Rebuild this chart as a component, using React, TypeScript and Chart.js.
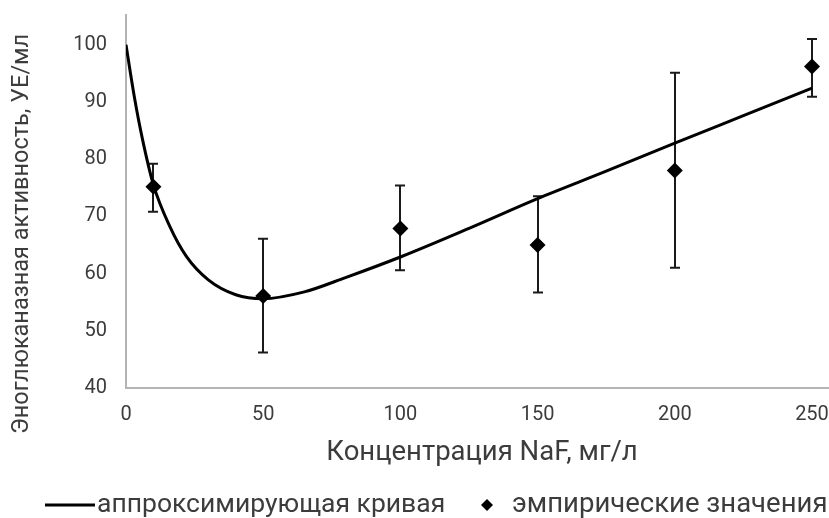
import React, { useEffect, useRef } from "react";
import { Chart, registerables } from "chart.js";

Chart.register(...registerables);

// Approximating curve (NaF concentration, mg/l → activity, U/ml)
const curveX = [0, 3, 6, 10, 16, 22, 30, 40, 50, 65, 80, 100, 125, 150, 175, 200, 225, 250];
const curveY = [100, 91, 83.5, 75.5, 68.2, 63, 58.9, 56.3, 55.6, 56.8, 59.3, 62.9, 67.9, 73.1, 77.9, 82.8, 87.6, 92.4];

// Empirical measurements with their error ranges
const empX = [10, 50, 100, 150, 200, 250];
const empY = [75.2, 56.1, 67.9, 65, 78, 96.2];
const errLow = [70.8, 46.2, 60.6, 56.7, 61, 90.9];
const errHigh = [79.2, 66.1, 75.4, 73.5, 95.1, 101];

const xTitle = "Концентрация NaF, мг/л";
const yTitle = "Эноглюканазная активность, УЕ/мл";
const curveLabel = "аппроксимирующая кривая";
const empLabel = "эмпирические значения";

const FONT = "Roboto, 'Noto Sans', sans-serif";
const TEXT = "#3c3c3c";

const noPadding = () => ({ left: 0, top: 0, right: 0, bottom: 0 });

const errorBars = {
  id: "errorBars",
  beforeDatasetsDraw(chart: any) {
    const { ctx, scales } = chart;
    const xs = scales.x;
    const ys = scales.y;
    ctx.save();
    ctx.strokeStyle = "#1a1a1a";
    ctx.lineWidth = 2;
    for (let i = 0; i < empX.length; i++) {
      const px = Math.round(xs.getPixelForValue(empX[i]));
      const top = ys.getPixelForValue(errHigh[i]);
      const bot = ys.getPixelForValue(errLow[i]);
      ctx.beginPath();
      ctx.moveTo(px, top);
      ctx.lineTo(px, bot);
      ctx.moveTo(px - 5, top);
      ctx.lineTo(px + 5, top);
      ctx.moveTo(px - 5, bot);
      ctx.lineTo(px + 5, bot);
      ctx.stroke();
    }
    ctx.restore();
  },
};

const annotations = {
  id: "annotations",
  afterDraw(chart: any) {
    const { ctx } = chart;
    ctx.save();
    ctx.fillStyle = TEXT;

    // y axis title
    ctx.save();
    ctx.translate(22, 234);
    ctx.rotate(-Math.PI / 2);
    ctx.font = `23.5px ${FONT}`;
    ctx.textAlign = "center";
    ctx.textBaseline = "middle";
    ctx.fillText(yTitle, 0, 0);
    ctx.restore();

    // x axis title
    ctx.font = `27.5px ${FONT}`;
    ctx.textAlign = "center";
    ctx.textBaseline = "middle";
    ctx.fillText(xTitle, 482, 453);

    // legend
    const ly = 505;
    ctx.strokeStyle = "#000";
    ctx.lineWidth = 3;
    ctx.beginPath();
    ctx.moveTo(45, ly);
    ctx.lineTo(95, ly);
    ctx.stroke();
    ctx.font = `26.5px ${FONT}`;
    ctx.textAlign = "left";
    ctx.fillText(curveLabel, 97, ly);

    ctx.fillStyle = "#000";
    ctx.beginPath();
    ctx.moveTo(487, ly - 6);
    ctx.lineTo(493, ly);
    ctx.lineTo(487, ly + 6);
    ctx.lineTo(481, ly);
    ctx.closePath();
    ctx.fill();
    ctx.fillStyle = TEXT;
    ctx.font = `27.5px ${FONT}`;
    ctx.fillText(empLabel, 512, ly);
    ctx.restore();
  },
};

export default function App() {
  const ref = useRef<HTMLCanvasElement>(null);

  useEffect(() => {
    if (!ref.current) return;
    const chart = new Chart(ref.current, {
      data: {
        datasets: [
          {
            type: "line",
            label: curveLabel,
            data: curveX.map((x, i) => ({ x, y: curveY[i] })),
            borderColor: "#000",
            borderWidth: 3,
            pointRadius: 0,
            cubicInterpolationMode: "monotone",
            fill: false,
            order: 0,
          },
          {
            type: "scatter",
            label: empLabel,
            data: empX.map((x, i) => ({ x, y: empY[i] })),
            pointStyle: "rectRot",
            pointRadius: 8,
            backgroundColor: "#000",
            borderColor: "#000",
            borderWidth: 0,
            order: 1,
          },
        ],
      },
      options: {
        animation: false,
        responsive: true,
        maintainAspectRatio: false,
        layout: { autoPadding: false, padding: { top: 15, left: 0, right: 0, bottom: 0 } },
        plugins: {
          legend: { display: false },
          tooltip: { enabled: false },
        },
        scales: {
          x: {
            type: "linear",
            min: 0,
            max: 256.2,
            afterFit: (s: any) => {
              s.height = 130;
              s.paddingLeft = 0;
              s.paddingRight = 0;
              s.getPadding = noPadding;
            },
            ticks: {
              stepSize: 50,
              includeBounds: false,
              padding: 15,
              color: TEXT,
              font: { family: FONT, size: 20 },
              maxRotation: 0,
            },
            grid: { display: false, drawTicks: false },
            border: { display: true, color: "#b4b4b4", width: 2 },
          },
          y: {
            type: "linear",
            min: 40,
            max: 105.2,
            afterFit: (s: any) => {
              s.width = 126;
              s.paddingTop = 0;
              s.paddingBottom = 0;
              s.getPadding = noPadding;
            },
            ticks: {
              stepSize: 10,
              includeBounds: false,
              padding: 19,
              color: TEXT,
              font: { family: FONT, size: 20 },
            },
            grid: { display: false, drawTicks: false },
            border: { display: true, color: "#b4b4b4", width: 2 },
          },
        },
      },
      plugins: [errorBars, annotations],
    });
    return () => chart.destroy();
  }, []);

  return (
    <div style={{ position: "absolute", left: 0, top: 0, width: 829, height: 518, background: "#fff" }}>
      <canvas ref={ref} />
    </div>
  );
}
